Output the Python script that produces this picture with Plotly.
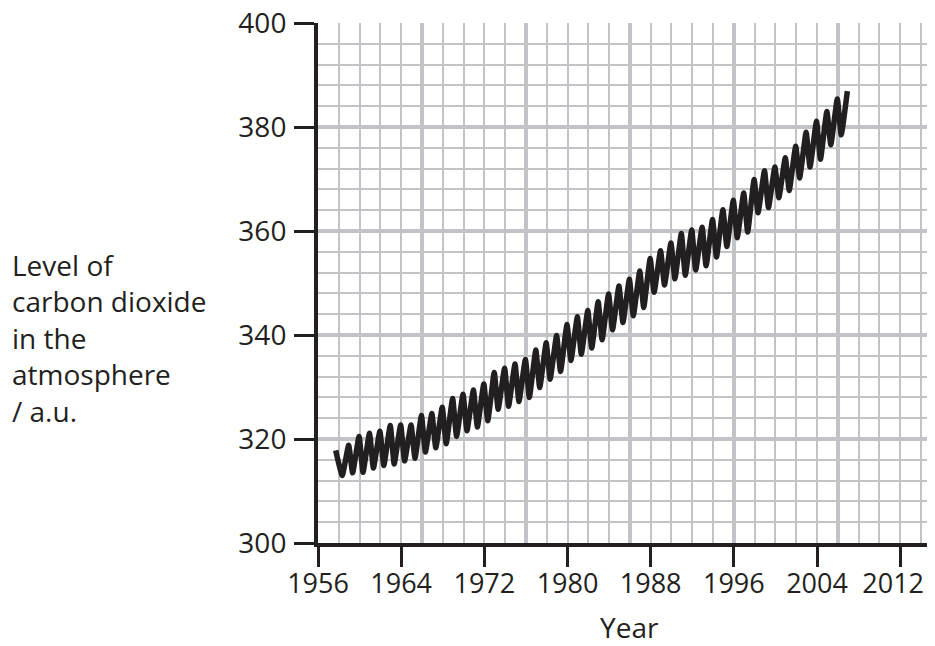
import plotly.graph_objects as go

# ---- data ----
start_year = [1957.7]
start_level = [317.8]

trough_years = [1958.33, 1959.33, 1960.33, 1961.33, 1962.33, 1963.33, 1964.33, 1965.33, 1966.33, 1967.33,
                1968.33, 1969.33, 1970.33, 1971.33, 1972.33, 1973.33, 1974.33, 1975.33, 1976.33, 1977.33,
                1978.33, 1979.33, 1980.33, 1981.33, 1982.33, 1983.33, 1984.33, 1985.33, 1986.33, 1987.33,
                1988.33, 1989.33, 1990.33, 1991.33, 1992.33, 1993.33, 1994.33, 1995.33, 1996.33, 1997.33,
                1998.33, 1999.33, 2000.33, 2001.33, 2002.33, 2003.33, 2004.33, 2005.33, 2006.33]
trough_levels = [313.0, 313.5, 313.6, 314.4, 314.9, 315.2, 315.8, 316.3, 317.5, 318.3,
                 319.1, 320.5, 321.6, 322.3, 323.5, 325.7, 326.3, 327.2, 328.0, 329.9,
                 331.5, 333.0, 335.1, 336.3, 337.5, 339.1, 341.0, 342.4, 343.7, 345.3,
                 348.2, 349.6, 350.8, 351.5, 352.5, 353.3, 355.0, 357.0, 358.7, 359.8,
                 363.5, 364.5, 366.4, 367.8, 370.2, 372.3, 373.8, 376.6, 378.5]

peak_years = [1958.95, 1959.95, 1960.95, 1961.95, 1962.95, 1963.95, 1964.95, 1965.95, 1966.95, 1967.95,
              1968.95, 1969.95, 1970.95, 1971.95, 1972.95, 1973.95, 1974.95, 1975.95, 1976.95, 1977.95,
              1978.95, 1979.95, 1980.95, 1981.95, 1982.95, 1983.95, 1984.95, 1985.95, 1986.95, 1987.95,
              1988.95, 1989.95, 1990.95, 1991.95, 1992.95, 1993.95, 1994.95, 1995.95, 1996.95, 1997.95,
              1998.95, 1999.95, 2000.95, 2001.95, 2002.95, 2003.95, 2004.95, 2005.95, 2006.92]
peak_levels = [318.8, 320.5, 321.1, 321.5, 322.6, 322.7, 322.7, 324.5, 324.9, 326.1,
               327.8, 328.6, 329.4, 330.6, 332.8, 333.6, 334.4, 335.3, 337.1, 338.5,
               339.9, 342.0, 343.5, 344.7, 346.4, 347.9, 349.4, 350.7, 352.3, 354.7,
               356.2, 357.7, 359.5, 360.2, 360.7, 362.2, 364.1, 365.9, 367.3, 369.9,
               371.6, 372.3, 374.1, 376.3, 379.0, 381.1, 383.0, 385.4, 386.9]

x_tick_years = [1956, 1964, 1972, 1980, 1988, 1996, 2004, 2012]
# the last label is nudged left (trailing non-breaking spaces) so it is not clipped at the page edge
x_tick_labels = ["1956", "1964", "1972", "1980", "1988", "1996", "2004", "2012\u00a0\u00a0"]
y_tick_levels = [300, 320, 340, 360, 380, 400]
y_tick_labels = ["300", "320", "340", "360", "380", "400"]

y_title_lines = ["Level of", "carbon dioxide", "in the", "atmosphere", "/ a.u."]
x_title = "Year"

# ---- build the zigzag from the peak / trough lists ----
xs = list(start_year)
ys = list(start_level)
for ty, tl, py, pl in zip(trough_years, trough_levels, peak_years, peak_levels):
    xs += [ty, py]
    ys += [tl, pl]

INK = "#231f20"
GRID = "#c2c3c6"
FONT = "Open Sans, Lato, sans-serif"
FS = 28
XR = [1956, 2015.35]
YR = [300, 400]

# the page body has an 8px default margin, so the figure is 8px smaller
W, H = 927, 638
L, T, B, R = 310, 15, 103, 0
PW = W - L - R
PH = H - T - B

fig = go.Figure()
fig.add_trace(go.Scatter(x=xs, y=ys, mode="lines",
                         line=dict(color=INK, width=5.5, shape="spline", smoothing=0.4),
                         showlegend=False, hoverinfo="skip"))
# dummy trace so the overlay grid axis is drawn
fig.add_trace(go.Scatter(x=[None], y=[None], xaxis="x2", yaxis="y",
                         showlegend=False, hoverinfo="skip"))

fig.update_layout(
    width=W, height=H,
    margin=dict(l=L, r=R, t=T, b=B, autoexpand=False),
    paper_bgcolor="white", plot_bgcolor="white",
    font=dict(family=FONT, size=FS, color=INK),
    xaxis=dict(range=XR, tickmode="array", tickvals=x_tick_years, ticktext=x_tick_labels,
               ticks="outside", ticklen=20, tickwidth=2.5, tickcolor=INK,
               showline=True, linewidth=4, linecolor=INK,
               showgrid=False, zeroline=False, ticklabeloverflow="allow",
               minor=dict(dtick=2, tick0=1956, showgrid=True, gridcolor=GRID, gridwidth=2, ticks=""),
               tickfont=dict(size=27, color=INK, family=FONT), ticklabelstandoff=-6),
    xaxis2=dict(range=XR, overlaying="x", anchor="y", side="bottom",
                dtick=10, tick0=1956, showgrid=True, gridcolor=GRID, gridwidth=4,
                showticklabels=False, ticks="", showline=False, zeroline=False),
    yaxis=dict(range=YR, tickmode="array", tickvals=y_tick_levels, ticktext=y_tick_labels,
               ticks="outside", ticklen=20, tickwidth=2.5, tickcolor=INK,
               showline=True, linewidth=4, linecolor=INK,
               showgrid=True, gridcolor=GRID, gridwidth=4, zeroline=False,
               ticklabeloverflow="allow",
               minor=dict(dtick=4, tick0=300, showgrid=True, gridcolor=GRID, gridwidth=2, ticks=""),
               tickfont=dict(size=FS, color=INK, family=FONT), ticklabelstandoff=2),
    annotations=[
        dict(text="<br>".join(y_title_lines), xref="paper", yref="paper",
             x=(2 - L) / PW, y=(528 - 323) / PH, xanchor="left", yanchor="middle",
             align="left", showarrow=False, font=dict(size=FS, color=INK, family=FONT)),
        dict(text=x_title, xref="paper", yref="paper",
             x=(621 - L) / PW, y=(528 - 612) / PH, xanchor="center", yanchor="middle",
             showarrow=False, font=dict(size=FS, color=INK, family=FONT)),
    ],
)

fig.write_html("out.html")
